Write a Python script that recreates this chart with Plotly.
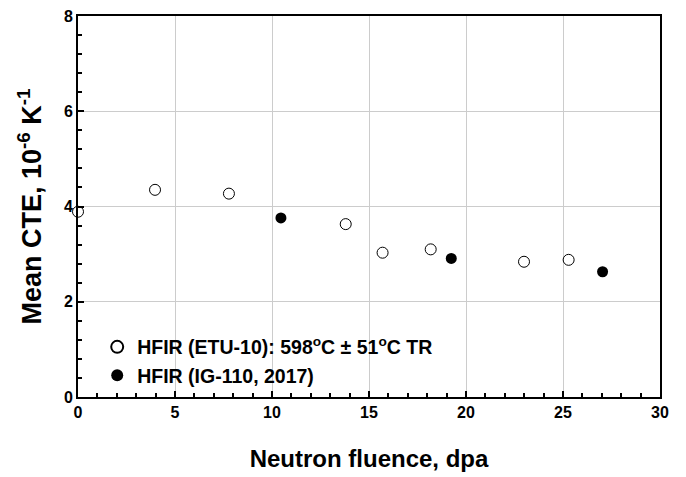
import plotly.graph_objects as go

etu_x = [0.0, 3.97, 7.78, 13.8, 15.7, 18.18, 22.99, 25.29]
etu_y = [3.89, 4.35, 4.27, 3.63, 3.03, 3.10, 2.84, 2.88]
ig_x = [10.46, 19.24, 27.04]
ig_y = [3.76, 2.91, 2.63]
x_ticks = [0, 5, 10, 15, 20, 25, 30]
y_ticks = [0, 2, 4, 6, 8]

font = "Liberation Sans, Arial, sans-serif"

fig = go.Figure()
fig.add_trace(go.Scatter(
    x=etu_x, y=etu_y, mode="markers",
    name="<b>HFIR (ETU-10): 598<sup>o</sup>C ± 51<sup>o</sup>C TR</b>",
    marker=dict(symbol="circle-open", size=11, color="black", line=dict(width=1, color="black")),
    cliponaxis=False,
))
fig.add_trace(go.Scatter(
    x=ig_x, y=ig_y, mode="markers",
    name="<b>HFIR (IG-110, 2017)</b>",
    marker=dict(symbol="circle", size=11, color="black"),
    cliponaxis=False,
))

axis_common = dict(
    showline=True, linecolor="black", linewidth=2, mirror=True,
    showgrid=True, gridcolor="#cccccc", gridwidth=1,
    ticks="inside", ticklen=6, tickwidth=1.5, tickcolor="black",
    tickfont=dict(family=font, size=16, color="black"),
    zeroline=False, automargin=False,
)

fig.update_layout(
    width=686, height=477,
    margin=dict(l=78, r=26, t=16, b=80),
    paper_bgcolor="white", plot_bgcolor="white",
    showlegend=True,
    legend=dict(x=0.033, y=0.094, xanchor="left", yanchor="middle",
                font=dict(family=font, size=19.5, color="black"),
                bgcolor="rgba(0,0,0,0)", itemsizing="constant", tracegroupgap=0),
    xaxis=dict(range=[0, 30], tickvals=x_ticks, ticktext=[f"<b>{v}</b>" for v in x_ticks],
               minor=dict(dtick=1, ticks="inside", ticklen=4, tickcolor="black", showgrid=False),
               title=dict(text="<b>Neutron fluence, dpa</b>", font=dict(family=font, size=24, color="black"), standoff=30),
               **axis_common),
    yaxis=dict(range=[0, 8], tickvals=y_ticks, ticktext=[f"<b>{v}</b>" for v in y_ticks],
               minor=dict(dtick=0.4, ticks="inside", ticklen=4, tickcolor="black", showgrid=False),
               title=dict(text="<b>Mean CTE, 10<sup>-6</sup> K<sup>-1</sup></b>", font=dict(family=font, size=27, color="black"), standoff=14),
               **axis_common),
)

fig.write_html("out.html", config={"displayModeBar": False},
               post_script="document.body.style.margin='0px'; document.body.style.overflow='hidden';")
